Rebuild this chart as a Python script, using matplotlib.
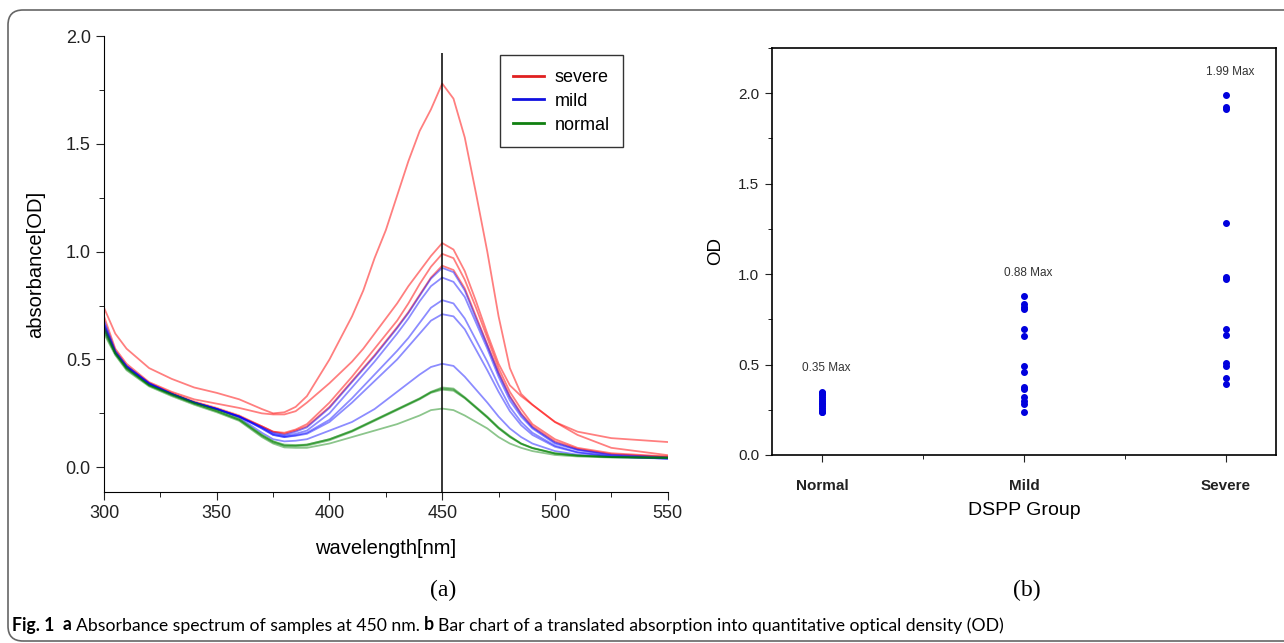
import numpy as np
import matplotlib
matplotlib.use("Agg")
from matplotlib import pyplot as plt
from matplotlib.patches import FancyBboxPatch
from matplotlib.ticker import MultipleLocator, FormatStrFormatter, NullFormatter

plt.rcParams['font.family'] = ['Liberation Sans', 'DejaVu Sans']

# (a) spectra
wavelength = [300, 305, 310, 320, 330, 340, 350, 360, 370, 375, 380, 385, 390, 400, 410,
              415, 420, 425, 430, 435, 440, 445, 450, 455, 460, 465, 470, 475, 480, 485,
              490, 500, 510, 525, 550]

severe_curves = [
    [0.74, 0.62, 0.55, 0.46, 0.41, 0.37, 0.345, 0.315, 0.27, 0.25, 0.255, 0.28, 0.33, 0.50, 0.70,
     0.82, 0.97, 1.10, 1.26, 1.42, 1.56, 1.66, 1.78, 1.71, 1.53, 1.27, 1.00, 0.70, 0.46, 0.34,
     0.29, 0.21, 0.165, 0.135, 0.117],
    [0.70, 0.55, 0.48, 0.395, 0.35, 0.315, 0.295, 0.275, 0.25, 0.245, 0.245, 0.26, 0.30, 0.39, 0.49,
     0.55, 0.62, 0.69, 0.76, 0.84, 0.91, 0.98, 1.04, 1.01, 0.91, 0.77, 0.62, 0.48, 0.38, 0.33,
     0.29, 0.21, 0.15, 0.09, 0.056],
    [0.66, 0.54, 0.47, 0.39, 0.345, 0.305, 0.275, 0.24, 0.19, 0.165, 0.16, 0.175, 0.20, 0.30, 0.42,
     0.485, 0.55, 0.615, 0.68, 0.76, 0.85, 0.93, 0.99, 0.97, 0.87, 0.74, 0.60, 0.46, 0.35, 0.27,
     0.20, 0.13, 0.09, 0.065, 0.05],
    [0.65, 0.53, 0.465, 0.385, 0.34, 0.30, 0.27, 0.235, 0.19, 0.165, 0.155, 0.17, 0.19, 0.28, 0.40,
     0.46, 0.52, 0.585, 0.65, 0.72, 0.80, 0.88, 0.935, 0.915, 0.83, 0.70, 0.57, 0.44, 0.33, 0.25,
     0.19, 0.12, 0.085, 0.06, 0.048],
]
mild_curves = [
    [0.64, 0.53, 0.46, 0.385, 0.34, 0.30, 0.27, 0.235, 0.185, 0.16, 0.15, 0.165, 0.185, 0.275, 0.395,
     0.455, 0.515, 0.58, 0.645, 0.715, 0.795, 0.875, 0.925, 0.905, 0.82, 0.69, 0.565, 0.435, 0.325, 0.245,
     0.185, 0.115, 0.082, 0.058, 0.046],
    [0.68, 0.54, 0.47, 0.39, 0.34, 0.30, 0.27, 0.235, 0.185, 0.155, 0.145, 0.155, 0.17, 0.25, 0.37,
     0.43, 0.49, 0.555, 0.62, 0.69, 0.77, 0.84, 0.88, 0.86, 0.79, 0.67, 0.55, 0.42, 0.31, 0.235,
     0.18, 0.11, 0.08, 0.055, 0.042],
    [0.66, 0.53, 0.465, 0.385, 0.34, 0.30, 0.27, 0.235, 0.18, 0.15, 0.14, 0.148, 0.16, 0.22, 0.32,
     0.375, 0.43, 0.485, 0.54, 0.60, 0.67, 0.74, 0.775, 0.76, 0.69, 0.59, 0.49, 0.38, 0.28, 0.21,
     0.16, 0.10, 0.07, 0.05, 0.04],
    [0.67, 0.535, 0.47, 0.39, 0.34, 0.30, 0.27, 0.235, 0.18, 0.15, 0.14, 0.146, 0.155, 0.21, 0.30,
     0.35, 0.40, 0.45, 0.50, 0.56, 0.62, 0.68, 0.71, 0.70, 0.64, 0.545, 0.45, 0.35, 0.26, 0.195,
     0.15, 0.095, 0.068, 0.05, 0.04],
    [0.65, 0.53, 0.465, 0.385, 0.34, 0.30, 0.27, 0.23, 0.16, 0.13, 0.12, 0.123, 0.13, 0.17, 0.21,
     0.24, 0.27, 0.31, 0.35, 0.39, 0.43, 0.465, 0.48, 0.47, 0.42, 0.36, 0.30, 0.235, 0.18, 0.14,
     0.11, 0.075, 0.058, 0.047, 0.04],
]
normal_curves = [
    [0.64, 0.53, 0.46, 0.38, 0.34, 0.30, 0.265, 0.225, 0.15, 0.12, 0.10, 0.10, 0.105, 0.13, 0.17,
     0.195, 0.22, 0.245, 0.27, 0.295, 0.32, 0.35, 0.37, 0.365, 0.325, 0.28, 0.235, 0.185, 0.145, 0.11,
     0.09, 0.065, 0.055, 0.048, 0.045],
    [0.63, 0.525, 0.455, 0.38, 0.335, 0.295, 0.26, 0.22, 0.145, 0.115, 0.10, 0.098, 0.10, 0.125, 0.165,
     0.19, 0.215, 0.24, 0.265, 0.29, 0.315, 0.345, 0.36, 0.355, 0.32, 0.275, 0.23, 0.18, 0.14, 0.108,
     0.088, 0.063, 0.053, 0.047, 0.044],
    [0.65, 0.53, 0.46, 0.38, 0.335, 0.295, 0.26, 0.22, 0.15, 0.12, 0.105, 0.103, 0.105, 0.13, 0.168,
     0.193, 0.218, 0.243, 0.268, 0.293, 0.318, 0.348, 0.365, 0.36, 0.322, 0.277, 0.232, 0.182, 0.142, 0.11,
     0.089, 0.064, 0.054, 0.047, 0.044],
    [0.62, 0.52, 0.45, 0.375, 0.33, 0.29, 0.255, 0.215, 0.14, 0.11, 0.092, 0.09, 0.09, 0.11, 0.14,
     0.155, 0.17, 0.185, 0.20, 0.22, 0.24, 0.265, 0.272, 0.265, 0.24, 0.21, 0.18, 0.14, 0.11, 0.09,
     0.075, 0.057, 0.05, 0.045, 0.042],
]

# (b) OD per group
groups = ['Normal', 'Mild', 'Severe']
od_normal = [0.35, 0.345, 0.34, 0.33, 0.32, 0.31, 0.30, 0.29, 0.28, 0.27, 0.26, 0.25, 0.24, 0.235]
od_mild = [0.88, 0.835, 0.82, 0.805, 0.695, 0.66, 0.49, 0.46, 0.375, 0.365, 0.32, 0.30, 0.28, 0.24]
od_severe = [1.99, 1.925, 1.915, 1.285, 0.985, 0.975, 0.695, 0.665, 0.51, 0.49, 0.425, 0.39]
max_labels = ['0.35 Max', '0.88 Max', '1.99 Max']

fig = plt.figure(figsize=(12.84, 6.43), dpi=100)

# ---- panel a ----
ax1 = fig.add_axes([0.081, 0.2348, 0.439, 0.709])
for c in severe_curves:
    ax1.plot(wavelength, c, color='red', alpha=0.5, lw=1.3)
for c in mild_curves:
    ax1.plot(wavelength, c, color='blue', alpha=0.45, lw=1.3)
for c in normal_curves:
    ax1.plot(wavelength, c, color='green', alpha=0.45, lw=1.3)
ax1.vlines(450, -0.115, 1.92, color='black', lw=1.1)

ax1.set_xlim(300, 550)
ax1.set_ylim(-0.115, 2.0)
ax1.xaxis.set_major_locator(MultipleLocator(50))
ax1.xaxis.set_minor_locator(MultipleLocator(25))
ax1.yaxis.set_major_locator(MultipleLocator(0.5))
ax1.yaxis.set_minor_locator(MultipleLocator(0.25))
ax1.yaxis.set_major_formatter(FormatStrFormatter('%.1f'))
ax1.spines['top'].set_visible(False)
ax1.spines['right'].set_visible(False)
ax1.tick_params(which='major', direction='out', length=6, labelsize=13, colors='#222')
ax1.tick_params(which='minor', direction='out', length=3.5)
ax1.set_xlabel('wavelength[nm]', fontsize=14.5, labelpad=12)
ax1.set_ylabel('absorbance[OD]', fontsize=14.5, labelpad=15)

h1, = ax1.plot([], [], color='#e02020', lw=2)
h2, = ax1.plot([], [], color='#1010e0', lw=2)
h3, = ax1.plot([], [], color='#108010', lw=2)
leg = ax1.legend([h1, h2, h3], ['severe', 'mild', 'normal'], loc='upper left',
                 bbox_to_anchor=(0.702, 0.958), fontsize=13, frameon=True, fancybox=False,
                 edgecolor='black', handlelength=1.7, handletextpad=0.6, borderpad=0.75,
                 labelspacing=0.38, borderaxespad=0)
leg.get_frame().set_linewidth(1.0)

# ---- panel b ----
ax2 = fig.add_axes([0.601, 0.2924, 0.393, 0.633])
for i, vals in enumerate([od_normal, od_mild, od_severe]):
    ax2.scatter([i + 1] * len(vals), vals, s=16, color='#0000dd', zorder=3)
    ax2.text(i + 1.02, max(vals) + 0.095, max_labels[i], ha='center', va='bottom',
             fontsize=8.5, color='#333')
ax2.set_xlim(0.75, 3.25)
ax2.set_ylim(0, 2.25)
ax2.set_xticks([1, 2, 3])
ax2.set_xticklabels(groups, fontweight='bold', fontsize=9.5)
ax2.xaxis.set_minor_locator(MultipleLocator(0.5))
ax2.yaxis.set_major_locator(MultipleLocator(0.5))
ax2.yaxis.set_minor_locator(MultipleLocator(0.25))
ax2.yaxis.set_major_formatter(FormatStrFormatter('%.1f'))
ax2.tick_params(which='major', direction='out', length=5, labelsize=11, colors='#222', pad=12)
ax2.tick_params(axis='y', which='major', pad=4)
ax2.tick_params(which='minor', direction='out', length=3)
ax2.xaxis.set_minor_formatter(NullFormatter())
for s in ax2.spines.values():
    s.set_linewidth(1.2)
ax2.set_xlabel('DSPP Group', fontsize=14, labelpad=7)
ax2.set_ylabel('OD', fontsize=13.5, labelpad=10)

# ---- figure labels and caption ----
fig.text(443 / 1284, 1 - 590 / 643, '(a)', ha='center', va='center',
         fontsize=17, family='Liberation Serif')
fig.text(1027 / 1284, 1 - 590 / 643, '(b)', ha='center', va='center',
         fontsize=17, family='Liberation Serif')

pieces = [('a', 'bold', 6), ('Absorbance spectrum of samples at 450 nm.', 'normal', 3),
          ('b', 'bold', 3), ('Bar chart of a translated absorption into quantitative optical density (OD)', 'normal', 3)]
t = fig.text(12 / 1284, 1 - 625 / 643, 'Fig. 1', fontweight='bold', fontsize=12.7,
             family='Lato', va='center')
for s, w, gap in pieces:
    t = ax1.annotate(s, xy=(1, 0), xycoords=t, xytext=(gap, 0), textcoords='offset points',
                     va='bottom', ha='left', fontweight=w, fontsize=12.7, family='Lato',
                     annotation_clip=False)

frame = FancyBboxPatch((0.08, 0.02), 13.5, 6.31, boxstyle='round,pad=0,rounding_size=0.15',
                       transform=fig.dpi_scale_trans, fill=False, ec='#666666', lw=1.2)
fig.patches.append(frame)

fig.savefig('out.png', dpi=100)
